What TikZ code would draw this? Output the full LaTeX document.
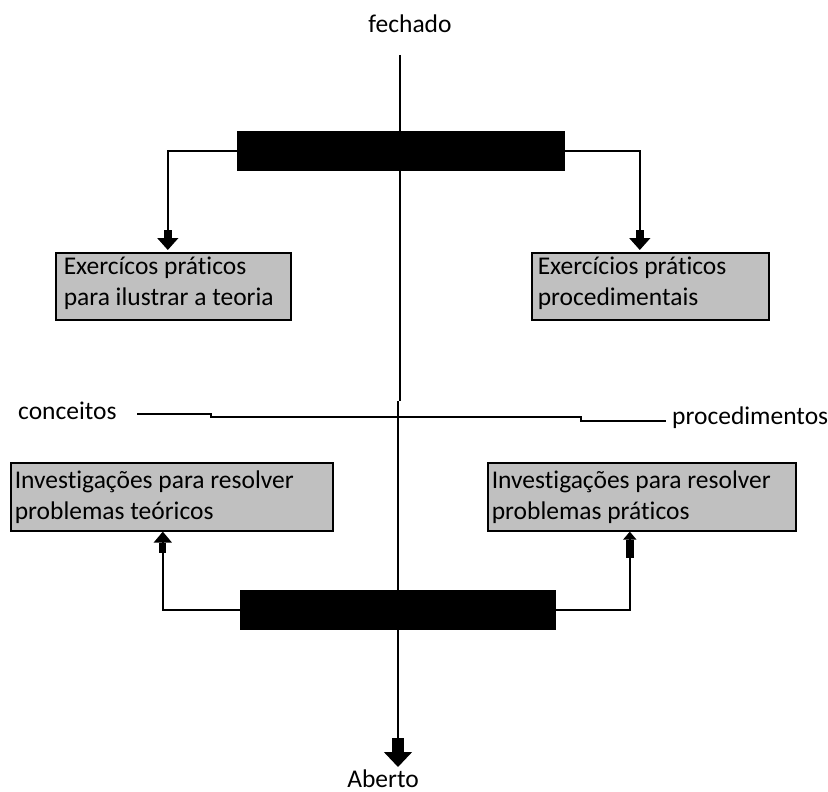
\documentclass[tikz,border=0pt]{standalone}
\usepackage{fontspec}
\setmainfont{Carlito}[Ligatures=NoCommon]
\usetikzlibrary{arrows.meta}
\definecolor{boxgray}{HTML}{C0C0C0}
\begin{document}
\begin{tikzpicture}[x=1pt,y=-1pt,
  lbl/.style={font=\fontsize{25.5}{30.5}\selectfont, inner sep=0pt, text=black},
  box/.style={lbl, draw=black, line width=1.6pt, fill=boxgray, anchor=north west, inner ysep=0pt, align=flush left},
  bar/.style={fill=black, inner sep=0pt, minimum height=40pt},
  ln/.style={line width=1.6pt},
  darr/.style={ln, shorten >=2pt, -{Rectangle[width=8pt,length=8pt,sep=0pt]Triangle[width=21pt,length=12pt]}},
  uarrl/.style={ln, -{Rectangle[width=7pt,length=10pt,sep=0pt]Triangle[width=18pt,length=11pt]}},
  uarrr/.style={ln, -{Rectangle[width=8pt,length=18pt,sep=0pt]Triangle[width=13pt,length=8pt]}},
  barr/.style={ln, -{Rectangle[width=12pt,length=14pt,sep=0pt]Triangle[width=28pt,length=15pt]}}]
\useasboundingbox (0,0) rectangle (828,792);
% texts
\node[lbl, anchor=base] (fech) at (410,33) {fechado};
\node[lbl, anchor=base] (abe) at (383,787) {Aberto};
\node[lbl, anchor=base west] (conc) at (18,419) {conceitos};
\node[lbl, anchor=base west] (proc) at (672,424) {procedimentos};
% central vertical line and axis
\coordinate (v1) at (400,55);
\coordinate (v2) at (400,401);
\coordinate (v3) at (398,401);
\coordinate (v4) at (398,767);
\draw[ln] (v1) -- (v2);
\draw[barr] (v3) -- (v4);
\coordinate (a0) at (137,414);
\coordinate (a1) at (211,414);
\coordinate (a2) at (211,417);
\coordinate (a3) at (581,417);
\coordinate (a4) at (581,421);
\coordinate (a5) at (666,421);
\draw[ln] (a0) -- (a1) -- (a2) -- (a3) -- (a4) -- (a5);
% bars
\node[bar, minimum width=328pt] (topbar) at (401,151) {};
\node[bar, minimum width=316pt] (botbar) at (398,610) {};
% boxes
\node[box, inner xsep=8pt, text width=219pt, minimum width=235pt, minimum height=67pt] (ex1) at (55,252)
  {\rule{0pt}{22pt}Exercícos práticos\\para ilustrar a teoria\rule[-14.5pt]{0pt}{14.5pt}};
\node[box, inner xsep=6pt, text width=225pt, minimum width=237pt, minimum height=67pt] (ex2) at (531,252)
  {\rule{0pt}{22pt}Exercícios práticos\\procedimentais\rule[-14.5pt]{0pt}{14.5pt}};
\node[box, inner xsep=4pt, text width=314pt, minimum width=322pt, minimum height=68pt] (inv1) at (10,462)
  {\rule{0pt}{26pt}Investigações para resolver\\problemas teóricos\rule[-11.5pt]{0pt}{11.5pt}};
\node[box, inner xsep=4pt, text width=300pt, minimum width=308pt, minimum height=68pt] (inv2) at (487,462)
  {\rule{0pt}{26pt}Investigações para resolver\\problemas práticos\rule[-11.5pt]{0pt}{11.5pt}};
% connectors
\draw[darr] (topbar.west) -| ([xshift=-5.5pt]ex1.north);
\draw[darr] (topbar.east) -| ([xshift=-10.5pt]ex2.north);
\draw[uarrl] (botbar.west) -| ([xshift=-9pt]inv1.south);
\draw[uarrr] (botbar.east) -| ([xshift=-12pt]inv2.south);
\end{tikzpicture}
\end{document}
